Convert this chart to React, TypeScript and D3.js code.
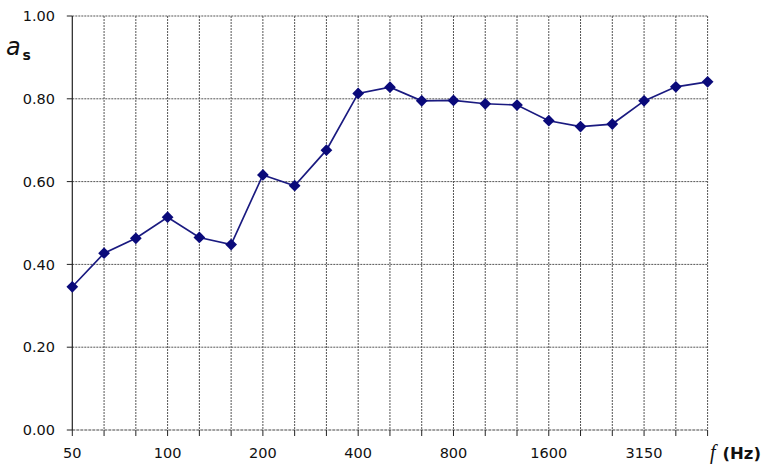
import React from "react";
import * as d3 from "d3";

const freqs = ["50","63","80","100","125","160","200","250","315","400","500","630","800","1000","1250","1600","2000","2500","3150","4000","5000"];
const values = [0.346,0.427,0.463,0.514,0.465,0.448,0.616,0.590,0.676,0.813,0.828,0.795,0.796,0.788,0.785,0.747,0.733,0.739,0.795,0.829,0.841];
const shownLabels = ["50","100","200","400","800","1600","3150"];
const yTicks = [0,0.2,0.4,0.6,0.8,1.0];

export default function App() {
  const W = 768, H = 476;
  const left = 72.3, right = 707.6, top = 16, bottom = 430;
  const x = d3.scalePoint<string>().domain(freqs).range([left, right]);
  const y = d3.scaleLinear().domain([0, 1]).range([bottom, top]);
  const line = d3.line<number>().x((_, i) => x(freqs[i])!).y(d => y(d));
  const font = "'DejaVu Sans', Verdana, sans-serif";
  const diamond = d3.symbol().type(d3.symbolDiamond2 ?? d3.symbolDiamond).size(88)();
  return (
    <svg width={W} height={H} style={{ position: "absolute", left: 0, top: 0, background: "#fff" }}>
      {freqs.map((f, i) => i > 0 ? (
        <line key={"vg" + f} x1={x(f)} x2={x(f)} y1={top} y2={bottom} stroke="#555" strokeWidth={1} strokeDasharray="2,1" />
      ) : null)}
      {yTicks.map(t => t > 0 ? (
        <line key={"hg" + t} x1={left} x2={right} y1={y(t)} y2={y(t)} stroke="#555" strokeWidth={1} strokeDasharray="2,1" />
      ) : null)}
      <line x1={left} x2={right} y1={bottom} y2={bottom} stroke="#444" strokeWidth={1.2} strokeDasharray="3,1" />
      <line x1={left} x2={left} y1={top} y2={bottom} stroke="#222" strokeWidth={1.2} />
      {yTicks.map(t => (
        <g key={"yt" + t}>
          <line x1={left - 5.5} x2={left} y1={y(t)} y2={y(t)} stroke="#222" strokeWidth={1} />
          <text x={55} y={y(t)} dy="0.36em" textAnchor="end" fontFamily={font} fontSize={14.5} fill="#111">{t.toFixed(2)}</text>
        </g>
      ))}
      {freqs.map(f => (
        <line key={"xt" + f} x1={x(f)} x2={x(f)} y1={bottom} y2={bottom + 6} stroke="#222" strokeWidth={1} />
      ))}
      {shownLabels.map(f => (
        <text key={"xl" + f} x={x(f)} y={458} textAnchor="middle" fontFamily={font} fontSize={14.5} fill="#111">{f}</text>
      ))}
      <path d={line(values) ?? ""} fill="none" stroke="#1a1a80" strokeWidth={1.7} />
      {values.map((v, i) => (
        <path key={"m" + i} d={diamond ?? ""} transform={`translate(${x(freqs[i])},${y(v)})`} fill="#0a0a7a" />
      ))}
      <text x={6} y={55} fontFamily={font} fontSize={24} fontStyle="italic" fill="#111">a</text>
      <text x={22.5} y={60} fontFamily={font} fontSize={14} fontWeight="bold" fill="#111">s</text>
      <text x={710} y={459} fontFamily="'Liberation Serif', serif" fontSize={20} fontStyle="italic" fill="#111">f</text>
      <text x={722.5} y={459} fontFamily={font} fontSize={16.5} fontWeight="bold" fill="#111">(Hz)</text>
    </svg>
  );
}
